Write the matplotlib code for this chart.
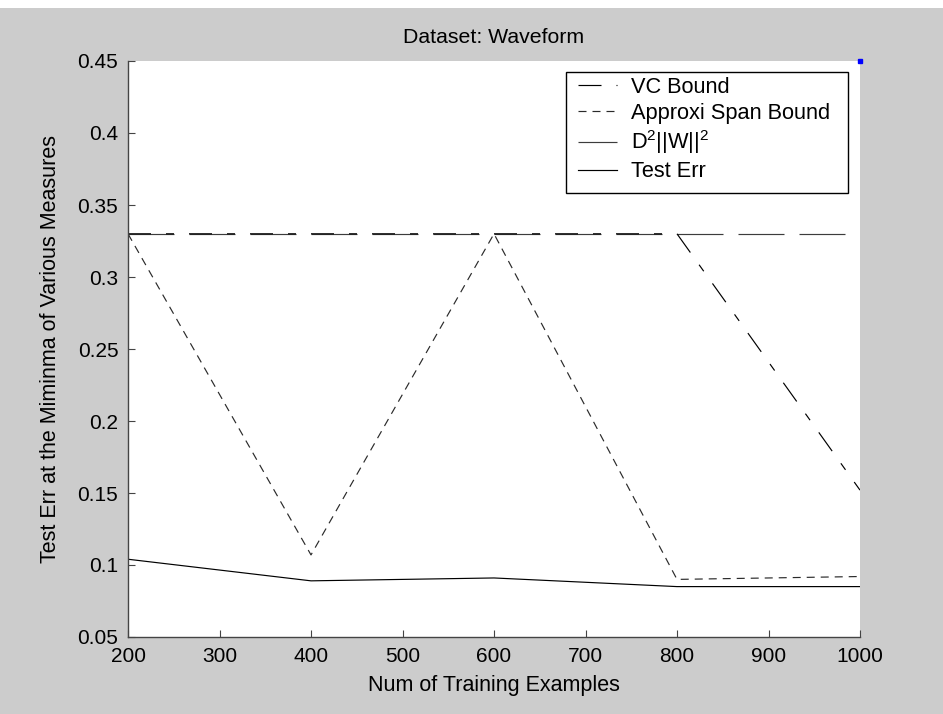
import matplotlib
matplotlib.use("Agg")
import matplotlib.pyplot as plt
from matplotlib.patches import Rectangle

plt.rcParams['font.family'] = ['Liberation Sans', 'DejaVu Sans']
plt.rcParams['mathtext.fontset'] = 'custom'
plt.rcParams['mathtext.rm'] = 'Liberation Sans'
plt.rcParams['mathtext.it'] = 'Liberation Sans:italic'
plt.rcParams['lines.scale_dashes'] = False

# ---- data ----
num_examples = [200, 400, 600, 800, 1000]
vc_bound = [0.33, 0.33, 0.33, 0.33, 0.152]
span_bound = [0.33, 0.107, 0.33, 0.090, 0.092]
d2w2 = [0.33, 0.33, 0.33, 0.33, 0.33]
test_err = [0.104, 0.089, 0.091, 0.085, 0.085]
marker_x = [1000]
marker_y = [0.45]

labels = ['VC Bound', 'Approxi Span Bound', r'D$^2$||W||$^2$', 'Test Err']
xticks = [200, 300, 400, 500, 600, 700, 800, 900, 1000]
yticks = [0.05, 0.1, 0.15, 0.2, 0.25, 0.3, 0.35, 0.4, 0.45]
ytick_labels = ['0.05', '0.1', '0.15', '0.2', '0.25', '0.3', '0.35', '0.4', '0.45']

W, H = 943, 714
fig = plt.figure(figsize=(W/100, H/100), dpi=100, facecolor='#cccccc')
# thin white strip along the top edge
fig.add_artist(Rectangle((0, 1 - 8/H), 1, 8/H, transform=fig.transFigure,
                         facecolor='white', edgecolor='none', zorder=0))
ax_l, ax_r, ax_t, ax_b = 128, 860, 61, 637
ax = fig.add_axes([ax_l/W, 1-ax_b/H, (ax_r-ax_l)/W, (ax_b-ax_t)/H])
ax.set_facecolor('white')

px = 0.72  # points per pixel at dpi 100
lw = 0.85
ax.plot(num_examples, d2w2, color='#3c3c3c', lw=lw, dashes=(46*px, 15*px), label=labels[2], zorder=2)
ax.plot(num_examples, vc_bound, color='black', lw=lw,
        dashes=(23*px, 15*px, 8*px, 15*px), label=labels[0], zorder=2.1)
ax.plot(num_examples, span_bound, color='#2a2a2a', lw=lw, dashes=(8*px, 6*px), label=labels[1], zorder=2.2)
ax.plot(num_examples, test_err, color='black', lw=lw, label=labels[3], zorder=2.3)
ax.plot(marker_x, marker_y, 's', color='#0000ff', ms=2.5, clip_on=False, zorder=5)

ax.set_xlim(200, 1000)
ax.set_ylim(0.05, 0.45)
ax.set_xticks(xticks)
ax.set_xticklabels([str(x) for x in xticks])
ax.set_yticks(yticks)
ax.set_yticklabels(ytick_labels)

for s in ['top', 'right']:
    ax.spines[s].set_visible(False)
for s in ['left', 'bottom']:
    ax.spines[s].set_color('#444444')
    ax.spines[s].set_linewidth(1.0)
ax.tick_params(direction='in', length=5, width=0.8, color='#444444',
               labelsize=15, pad=7)

ax.set_title('Dataset: Waveform', fontsize=15.3, pad=13)
ax.set_xlabel('Num of Training Examples', fontsize=15.5, labelpad=7)
ax.set_ylabel('Test Err at the Miminma of Various Measures', fontsize=15.5, labelpad=12)

# legend frame drawn as a box, legend entries placed inside it
aw, ah = ax_r - ax_l, ax_b - ax_t
fx0, fx1, fy0, fy1 = 566, 848, 72, 193
ax.add_patch(Rectangle(((fx0-ax_l)/aw, (ax_b-fy1)/ah), (fx1-fx0)/aw, (fy1-fy0)/ah,
                       transform=ax.transAxes, facecolor='white', edgecolor='black',
                       lw=1.0, zorder=4.5, clip_on=False))
handles, _ = ax.get_legend_handles_labels()
order = [labels.index(h.get_label()) for h in handles]
handles = [h for _, h in sorted(zip(order, handles), key=lambda t: t[0])]
leg = ax.legend(handles=handles, labels=labels, loc='upper left',
                bbox_to_anchor=((578-ax_l)/aw, (ax_b-77)/ah),
                borderaxespad=0, borderpad=0, fontsize=15.7, frameon=False,
                handlelength=1.8, handletextpad=0.65, labelspacing=0.22)
leg.set_zorder(5)

fig.savefig('out.png', dpi=100, facecolor=fig.get_facecolor())
